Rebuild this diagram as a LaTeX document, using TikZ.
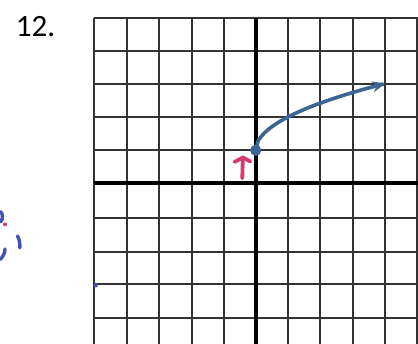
\documentclass[tikz,border=0pt]{standalone}
\usepackage{fontspec}
\setmainfont{Carlito}
\usetikzlibrary{arrows.meta}
\definecolor{curveblue}{HTML}{3C6593}
\definecolor{inkpink}{HTML}{D63A74}
\definecolor{inkblue}{HTML}{4352B4}
\tikzset{
  gridline/.style={draw=black!80, line width=1.7pt},
  axisline/.style={draw=black, line width=3.8pt},
  graphcurve/.style={draw=curveblue, line width=3.6pt, line cap=round},
  pinkstroke/.style={draw=inkpink, line width=3.8pt, line cap=round, line join=round},
  bluestroke/.style={draw=inkblue, line width=3.4pt, line cap=round},
}
\begin{document}
\begin{tikzpicture}[x=1pt,y=-1pt]
\useasboundingbox[fill=white] (0,0) rectangle (418,344);
% grid
\foreach \gx in {94.3,126.7,159,191.7,224.3,288,320.3,352.7,385.3,417.3}
  \draw[gridline] (\gx,18.3) -- (\gx,344);
\foreach \gy in {18.3,50.7,84.3,116.7,150.3,218.3,252.3,284.3,317.7}
  \draw[gridline] (94.3,\gy) -- (418,\gy);
% axes
\draw[axisline] (255.7,18.3) -- (255.7,344);
\draw[axisline] (94.3,183) -- (418,183);
% label
\node[font=\fontsize{31}{31}\selectfont, inner sep=0pt] (num) at (35.5,26.5) {12.};
% curve y = sqrt(x) + 1
\coordinate (start) at (255.7,150.3);
\draw[graphcurve, -{Stealth[length=13pt,width=11pt]}]
  plot[domain=0:4, samples=60, smooth] ({255.7+32.4*\x},{150.3-33.4*sqrt(\x)});
\fill[curveblue] (start) circle (5.6pt);
% pink up arrow
\coordinate (pa) at (242.3,178.3);
\coordinate (pb) at (242.8,157.5);
\draw[pinkstroke] (pa) -- (pb);
\draw[pinkstroke] (234.5,162) -- (pb) -- (250.3,161.5);
% blue scribbles on the left
\draw[bluestroke] (0,211.5) .. controls (3,213) and (3.5,219) .. (0.5,222);
\fill[inkpink] (5,224.3) circle (2pt);
\draw[bluestroke] (17.5,236) .. controls (19.5,239) and (20,244) .. (19.8,248);
\draw[bluestroke] (5,249) .. controls (5,253) and (3,257) .. (0,259.5);
\fill[inkblue] (95.7,285.3) circle (2.2pt);
\end{tikzpicture}
\end{document}
